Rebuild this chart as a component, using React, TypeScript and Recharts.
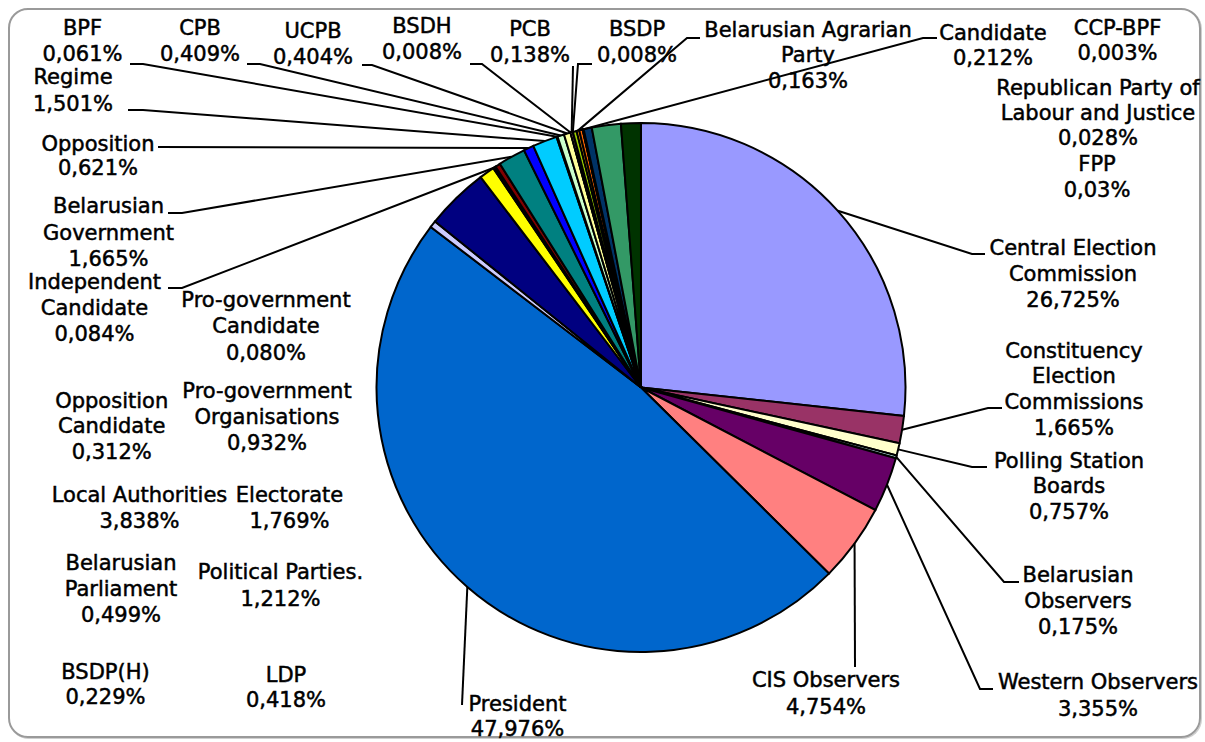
import { PieChart, Pie, Cell } from "recharts";

// category names as printed (line breaks as in the labels)
const NAMES = [
  "Central Election\nCommission",
  "Constituency\nElection\nCommissions",
  "Polling Station\nBoards",
  "Belarusian\nObservers",
  "Western Observers",
  "CIS Observers",
  "President",
  "LDP",
  "Local Authorities",
  "Pro-government\nOrganisations",
  "Independent\nCandidate",
  "Pro-government\nCandidate",
  "Opposition\nCandidate",
  "Belarusian\nGovernment",
  "Opposition",
  "Regime",
  "BPF",
  "CPB",
  "UCPB",
  "BSDH",
  "PCB",
  "BSDP",
  "BSDP(H)",
  "Belarusian Agrarian\nParty",
  "Candidate",
  "CCP-BPF",
  "Republican Party of\nLabour and Justice",
  "FPP",
  "Belarusian\nParliament",
  "Electorate",
  "Political Parties.",
];

// shares in %, written the way the chart prints them
const SHARES = [
  "26,725", "1,665", "0,757", "0,175", "3,355", "4,754", "47,976", "0,418",
  "3,838", "0,932", "0,084", "0,080", "0,312", "1,665", "0,621", "1,501",
  "0,061", "0,409", "0,404", "0,008", "0,138", "0,008", "0,229", "0,163",
  "0,212", "0,003", "0,028", "0,03", "0,499", "1,769", "1,212",
];

const COLORS = [
  "#9999FF", "#993366", "#FFFFCC", "#CCFFFF", "#660066", "#FF8080", "#0066CC", "#CCCCFF",
  "#000080", "#FFFF00", "#800080", "#660033", "#800000", "#008080", "#0000FF", "#00CCFF",
  "#CCFFFF", "#CCFFCC", "#FFFF99", "#99CCFF", "#FF99CC", "#CC99FF", "#99CC00", "#FF9900",
  "#FF6600", "#666699", "#969696", "#FFCC00", "#003366", "#339966", "#003300",
];

// label placement (manually placed labels): centre x, first line centre y, line step,
// optional leader [label side x, bend x, y]
type Lay = { x: number; y: number; lh: number; lead?: [number, number, number] };
const LAYOUT: Lay[] = [
  { x: 1073, y: 247.5, lh: 26, lead: [985, 972, 254] },
  { x: 1074, y: 350, lh: 25.7, lead: [1002, 988, 408] },
  { x: 1069, y: 460, lh: 25.5, lead: [987, 972, 467] },
  { x: 1078, y: 574, lh: 26, lead: [1019, 1004, 582] },
  { x: 1098, y: 681, lh: 27, lead: [993, 980, 689] },
  { x: 826, y: 679, lh: 27, lead: [855, 855, 667] },
  { x: 517.5, y: 703, lh: 25.5, lead: [462, 462, 705] },
  { x: 286, y: 674, lh: 25.5 },
  { x: 139.5, y: 494, lh: 26.5 },
  { x: 267, y: 390.5, lh: 26 },
  { x: 94.5, y: 281.7, lh: 25.7, lead: [168, 182, 288] },
  { x: 266, y: 299, lh: 26.6 },
  { x: 111.7, y: 400, lh: 25.5 },
  { x: 108.5, y: 205.8, lh: 26.5, lead: [168, 182, 213] },
  { x: 98, y: 143, lh: 24, lead: [158, 158, 147] },
  { x: 73, y: 76.5, lh: 26.5, lead: [128, 143, 110] },
  { x: 82.5, y: 27.5, lh: 26, lead: [130, 143, 64] },
  { x: 200, y: 27, lh: 26, lead: [247, 260, 64] },
  { x: 313, y: 30.5, lh: 26, lead: [362, 372, 65] },
  { x: 422, y: 25, lh: 26, lead: [470, 482, 64] },
  { x: 530, y: 28, lh: 26, lead: [573, 573, 66] },
  { x: 637, y: 28, lh: 26, lead: [592, 578, 64] },
  { x: 105.5, y: 671.7, lh: 25 },
  { x: 808, y: 29, lh: 25.5, lead: [700, 687, 38] },
  { x: 993, y: 32.5, lh: 24.5, lead: [937, 923, 38] },
  { x: 1117.5, y: 27.5, lh: 24.5 },
  { x: 1098, y: 87.5, lh: 25 },
  { x: 1097, y: 163, lh: 26 },
  { x: 121, y: 562.5, lh: 25.8 },
  { x: 289.5, y: 494, lh: 26.5 },
  { x: 280.5, y: 571.7, lh: 26.6 },
];

const data = NAMES.map((name, i) => ({
  name,
  value: parseFloat(SHARES[i].replace(",", ".")),
}));

const RAD = Math.PI / 180;

const renderLabel = (p: any) => {
  const i = p.index;
  const L = LAYOUT[i];
  const lines = [...NAMES[i].split("\n"), SHARES[i] + "%"];
  const ex = p.cx + p.outerRadius * Math.cos(-p.midAngle * RAD);
  const ey = p.cy + p.outerRadius * Math.sin(-p.midAngle * RAD);
  return (
    <g key={`lbl-${i}`}>
      {L.lead && (
        <polyline
          points={`${L.lead[0]},${L.lead[2]} ${L.lead[1]},${L.lead[2]} ${ex},${ey}`}
          fill="none"
          stroke="#000"
          strokeWidth={2}
        />
      )}
      <text
        textAnchor="middle"
        fontFamily="DejaVu Sans"
        fontSize={21}
        fill="#000"
        stroke="#000"
        strokeWidth={0.5}
      >
        {lines.map((s, k) => (
          <tspan key={k} x={L.x} y={L.y + k * L.lh + 7.6}>
            {s}
          </tspan>
        ))}
      </text>
    </g>
  );
};

export default function App() {
  return (
    <div style={{ position: "absolute", left: 0, top: 0, width: 1205, height: 742, background: "#fff" }}>
      <div
        style={{
          position: "absolute",
          left: 8,
          top: 8,
          width: 1193,
          height: 730,
          boxSizing: "border-box",
          border: "2px solid #9a9a9a",
          borderRadius: 20,
          boxShadow: "1px 1px 0 #cfcfcf",
        }}
      />
      <div style={{ position: "absolute", left: 0, top: 0 }}>
        <PieChart width={1205} height={742} margin={{ top: 0, right: 0, bottom: 0, left: 0 }}>
          <Pie
            data={data}
            dataKey="value"
            nameKey="name"
            cx={641}
            cy={387.5}
            outerRadius={264.5}
            startAngle={90}
            endAngle={-270}
            stroke="#000"
            strokeWidth={2}
            label={renderLabel}
            labelLine={false}
            isAnimationActive={false}
          >
            {data.map((d, i) => (
              <Cell key={`cell-${i}`} fill={COLORS[i]} />
            ))}
          </Pie>
        </PieChart>
      </div>
    </div>
  );
}
